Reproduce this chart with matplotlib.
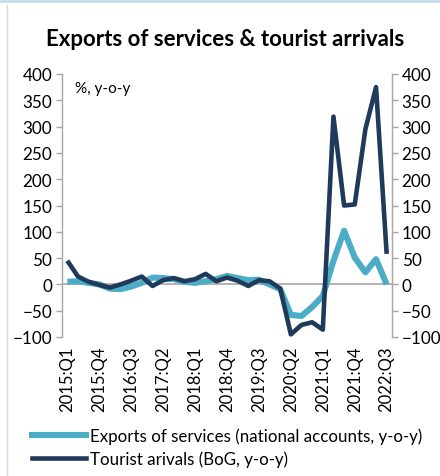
import numpy as np
import matplotlib
matplotlib.use("Agg")
import matplotlib.pyplot as plt
from matplotlib.lines import Line2D

plt.rcParams['font.family'] = ['Lato', 'DejaVu Sans']

# quarters 2015:Q1 .. 2022:Q3
quarters = ["%d:Q%d" % (y, q) for y in range(2015, 2023) for q in range(1, 5)][:31]

exports_services = [5, 6, 3, 0, -8, -9, -4, 3, 13, 12, 10, 5, 3, 6, 10,
                    16, 12, 8, 9, 0, -9, -58, -60, -43, -22, 45, 102, 51, 23, 48, 0]
tourist_arrivals = [45, 15, 5, -1, -6, 0, 7, 15, -3, 8, 12, 6, 10, 20, 6,
                    13, 7, -3, 8, 6, -8, -95, -77, -72, -86, 319, 150, 152, 295, 375, 58]

yticks = [400, 350, 300, 250, 200, 150, 100, 50, 0, -50, -100]

c_light = '#4BACC6'
c_dark = '#203A5C'
c_axis = '#A6A6A6'

fig = plt.figure(figsize=(4.4, 4.77), dpi=100)
ax = fig.add_axes([62/440, 1-338/477, (392-62)/440, (338-75)/477])

x = np.arange(len(quarters))
ax.plot(x, exports_services, color=c_light, lw=4.4, solid_capstyle='butt', zorder=3)
ax.plot(x, tourist_arrivals, color=c_dark, lw=3.3, solid_capstyle='butt', zorder=4)
ax.axhline(0, color=c_axis, lw=1.2, zorder=2)

ax.set_xlim(-0.5, len(quarters)-0.5)
ax.set_ylim(-100, 400)
ax.set_yticks(yticks)
ax.set_xticks(x[::3])
ax.set_xticklabels(quarters[::3], rotation=90, fontsize=12)
ax.tick_params(axis='x', length=0, pad=6)
ax.tick_params(axis='y', labelsize=12.3, color=c_axis, length=4, width=1, pad=3)

for s in ['top', 'bottom']:
    ax.spines[s].set_visible(False)
for s in ['left', 'right']:
    ax.spines[s].set_color(c_axis)
    ax.spines[s].set_linewidth(1)

ax2 = ax.twinx()
ax2.set_ylim(-100, 400)
ax2.set_yticks(yticks)
ax2.tick_params(axis='y', labelsize=12.3, color=c_axis, length=4, width=1, pad=3)
for s in ['top', 'bottom', 'left']:
    ax2.spines[s].set_visible(False)
ax2.spines['right'].set_color(c_axis)

ax.text(0.04, 0.975, '%, y-o-y', transform=ax.transAxes, fontsize=11, va='top')

fig.text(225/440, 1-40/477, 'Exports of services & tourist arrivals',
         ha='center', va='center', fontsize=16, fontweight='bold')

handles = [Line2D([], [], color=c_light, lw=4.4), Line2D([], [], color=c_dark, lw=3.3)]
fig.legend(handles, ['Exports of services (national accounts, y-o-y)',
                     'Tourist arivals (BoG, y-o-y)'],
           loc='upper left', bbox_to_anchor=(32/440, 1-428/477), frameon=False,
           fontsize=12.2, handlelength=3.2, handletextpad=0.2, labelspacing=0.4,
           borderaxespad=0, borderpad=0)

# frame lines of the original chart box
fig.add_artist(Line2D([7/440, 7/440], [0, 1-6/477], color='#D9D9D9', lw=1, transform=fig.transFigure))
fig.add_artist(Line2D([0, 1], [1-2/477, 1-2/477], color='#C5DCE8', lw=2, transform=fig.transFigure))

fig.savefig('out.png', dpi=100)
